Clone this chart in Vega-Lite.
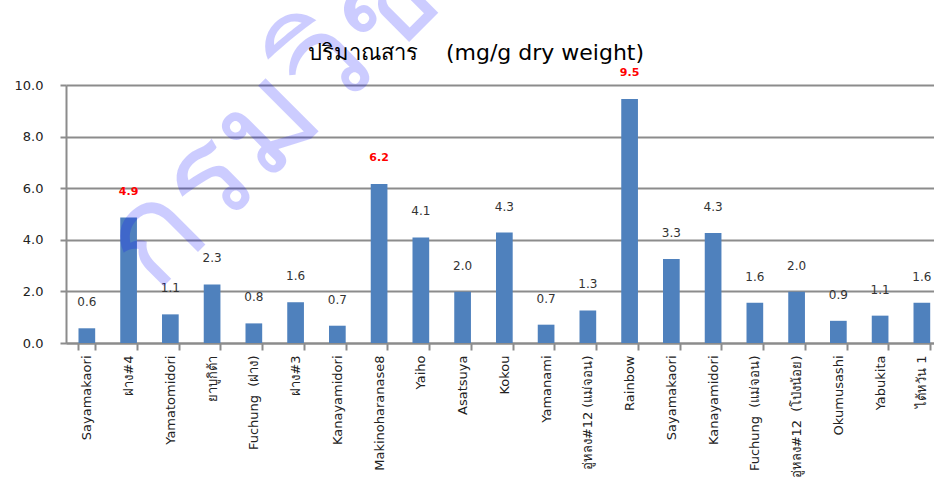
{
  "$schema": "https://vega.github.io/schema/vega-lite/v6.json",
  "autosize": "none",
  "width": 868,
  "height": 258,
  "padding": {"left": 66, "top": 85, "right": 0, "bottom": 156},
  "background": "white",
  "title": {
    "text": "ปริมาณสาร\u00a0\u00a0\u00a0\u00a0(mg/g dry weight)",
    "anchor": "middle",
    "dx": -24,
    "offset": -191,
    "font": "DejaVu Sans",
    "fontSize": 22,
    "fontWeight": "normal",
    "color": "#000000"
  },
  "data": {
    "values": [
      {"k": "01|Sayamakaori", "v": 0.57},
      {"k": "02|ฝาง#4", "v": 4.86},
      {"k": "03|Yamatomidori", "v": 1.11},
      {"k": "04|ยาบูกิต้า", "v": 2.27},
      {"k": "05|Fuchung\u00a0\u00a0(ฝาง)", "v": 0.76},
      {"k": "06|ฝาง#3", "v": 1.58},
      {"k": "07|Kanayamidori", "v": 0.67},
      {"k": "08|Makinoharanase8", "v": 6.16},
      {"k": "09|Yaiho", "v": 4.09},
      {"k": "10|Asatsuya", "v": 1.99},
      {"k": "11|Kokou", "v": 4.28},
      {"k": "12|Yamanami", "v": 0.71},
      {"k": "13|อู่หลง#12 (แม่จอน)", "v": 1.26},
      {"k": "14|Rainbow", "v": 9.46},
      {"k": "15|Sayamakaori", "v": 3.26},
      {"k": "16|Kanayamidori", "v": 4.26},
      {"k": "17|Fuchung\u00a0\u00a0(แม่จอน)", "v": 1.56},
      {"k": "18|อู่หลง#12\u00a0\u00a0(โป่งน้อย)", "v": 1.99},
      {"k": "19|Okumusashi", "v": 0.86},
      {"k": "20|Yabukita", "v": 1.06},
      {"k": "21|ไต้หวัน 1", "v": 1.56}
    ]
  },
  "encoding": {
    "x": {
      "field": "k",
      "type": "nominal",
      "sort": null,
      "scale": {"paddingInner": 0.6, "paddingOuter": 0.195, "align": 0.767, "round": false},
      "axis": {
        "title": null,
        "labelExpr": "split(datum.value, '|')[1]",
        "labelAngle": -90,
        "labelFont": "DejaVu Sans",
        "labelFontSize": 13,
        "labelColor": "#222222",
        "labelPadding": 5,
        "tickBand": "extent",
        "tickSize": 7,
        "tickWidth": 2,
        "tickColor": "#8c8c8c",
        "domainColor": "#8c8c8c",
        "domainWidth": 2,
        "grid": false
      }
    },
    "y": {
      "field": "v",
      "type": "quantitative",
      "scale": {"domain": [0, 10], "nice": false},
      "axis": {
        "title": null,
        "values": [0, 2, 4, 6, 8, 10],
        "format": ".1f",
        "labelFont": "DejaVu Sans",
        "labelFontSize": 13,
        "labelColor": "#222222",
        "labelPadding": 17,
        "tickSize": 6,
        "tickWidth": 2,
        "tickColor": "#8c8c8c",
        "domainColor": "#8c8c8c",
        "domainWidth": 2,
        "grid": true,
        "gridColor": "#8c8c8c",
        "gridWidth": 2
      }
    }
  },
  "layer": [
    {"mark": {"type": "bar", "color": "#4f81bd"}},
    {
      "transform": [{"filter": "datum.v <= 4.5"}],
      "mark": {"type": "text", "dy": -26, "baseline": "middle", "font": "DejaVu Sans", "fontSize": 12, "color": "#333333"},
      "encoding": {"text": {"field": "v", "format": ".1f"}}
    },
    {
      "transform": [{"filter": "datum.v > 4.5"}],
      "mark": {"type": "text", "dy": -26, "baseline": "middle", "font": "DejaVu Sans", "fontSize": 11, "fontWeight": "bold", "color": "#ff0000"},
      "encoding": {"text": {"field": "v", "format": ".1f"}}
    },
    {
      "transform": [{"filter": "datum.k == '01|Sayamakaori'"}],
      "mark": {"type": "text", "text": "กรมวิชา", "align": "left", "baseline": "alphabetic", "angle": -45, "dx": 72, "dy": 25, "font": "DejaVu Sans", "fontSize": 135, "fill": "#0000ff", "fillOpacity": 0.2}
    }
  ],
  "config": {"view": {"stroke": null}}
}
